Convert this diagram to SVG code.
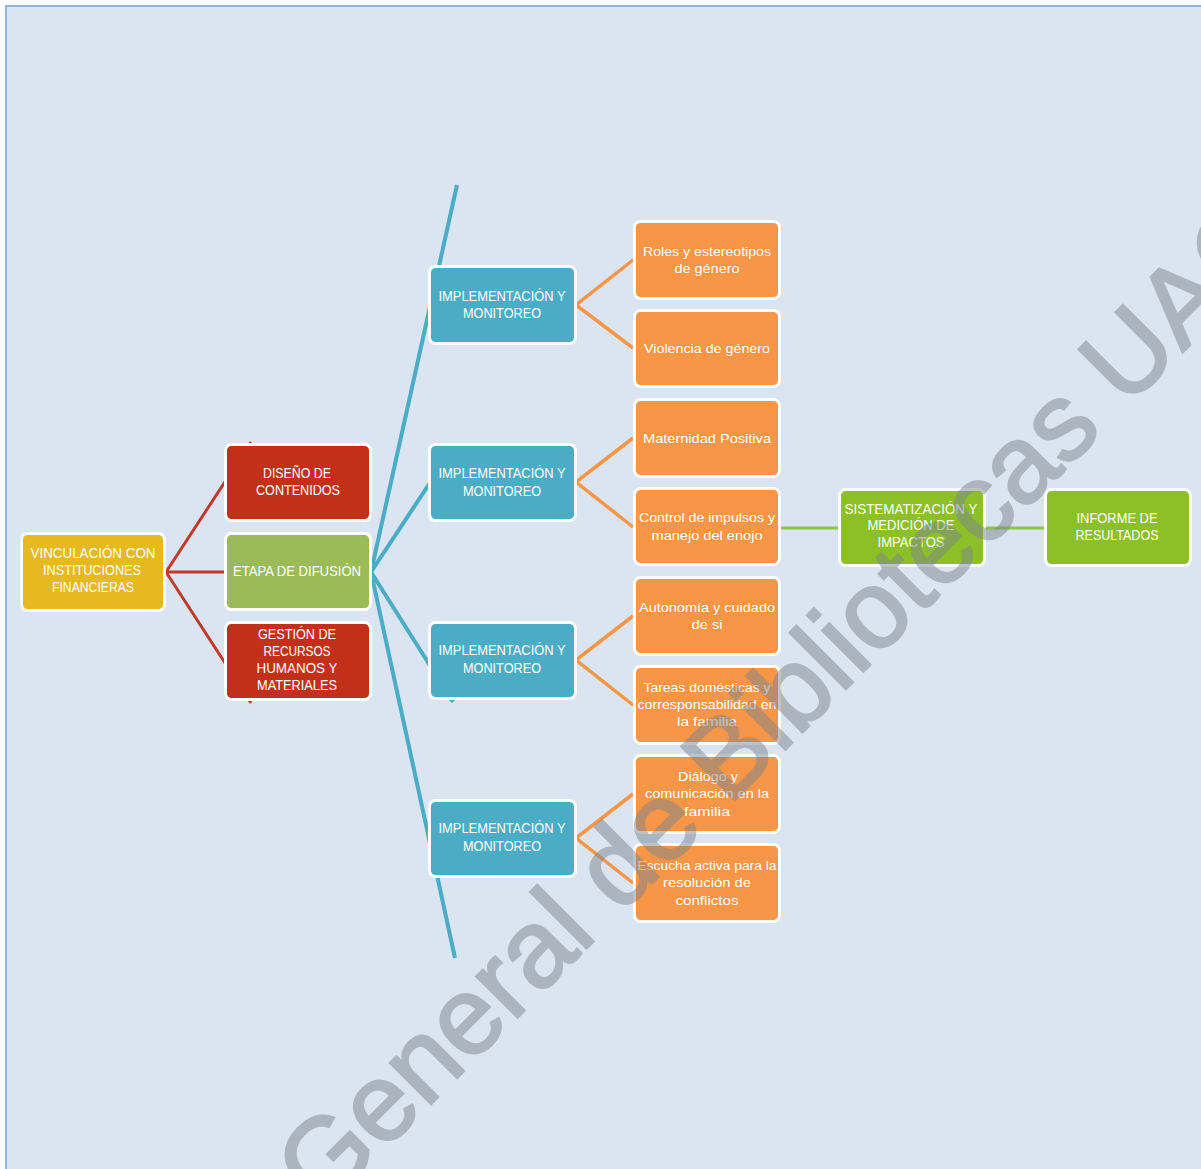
<svg xmlns="http://www.w3.org/2000/svg" width="1201" height="1169" viewBox="0 0 1201 1169">
<style>
.box{stroke:#FFFFFF;stroke-width:3}
.yel{fill:#E6B91E}
.red{fill:#C3301A}
.olv{fill:#9BBB59}
.teal{fill:#4BACC6}
.org{fill:#F79646}
.grn{fill:#8DC026}
text{font-family:"Liberation Sans Narrow","Liberation Sans",Arial,sans-serif;fill:#FFFFFF;text-anchor:middle;font-size:14px}
.lc{font-size:13.5px}
.cr{stroke:#C0392B;stroke-width:3;fill:none}
.ct{stroke:#4BACC6;stroke-width:4;fill:none}
.co{stroke:#F79646;stroke-width:3.5;fill:none}
.cg{stroke:#8DC63F;stroke-width:3;fill:none}
.wm{font-family:"Liberation Sans",Arial,sans-serif;font-size:110px;fill:#7F868E;stroke:#7F868E;stroke-width:2.5;text-anchor:start}
</style>
<rect x="0" y="0" width="1201" height="1169" fill="#FFFFFF"/>
<rect x="6" y="6" width="1196" height="1164" fill="#DBE5F1"/>
<line x1="5" y1="6" x2="1201" y2="6" stroke="#95B3D7" stroke-width="2"/>
<line x1="6" y1="5" x2="6" y2="1169" stroke="#95B3D7" stroke-width="2"/>

<g id="connectors">
<line class="cr" x1="166" y1="572" x2="251" y2="442"/>
<line class="cr" x1="166" y1="572" x2="226" y2="572"/>
<line class="cr" x1="166" y1="572" x2="251" y2="703"/>
<line class="ct" x1="371" y1="572" x2="457" y2="185"/>
<line class="ct" x1="371" y1="572" x2="445" y2="460"/>
<line class="ct" x1="371" y1="572" x2="453" y2="702"/>
<line class="ct" x1="371" y1="572" x2="455" y2="958"/>
<polyline class="co" points="633,260 576,305 633,348"/>
<polyline class="co" points="633,438 576,482 633,527"/>
<polyline class="co" points="633,616 576,660 633,705"/>
<polyline class="co" points="633,794 576,838 633,883"/>
<line class="cg" x1="780" y1="528" x2="840" y2="528"/>
<line class="cg" x1="984" y1="528" x2="1046" y2="528"/>
</g>

<g id="n-vinculacion"><rect class="box yel" x="21.5" y="533.5" width="143" height="77" rx="6"/>
<text x="93" y="558" textLength="125" lengthAdjust="spacingAndGlyphs">VINCULACIÓN  CON</text>
<text x="92" y="575" textLength="98" lengthAdjust="spacingAndGlyphs">INSTITUCIONES</text>
<text x="93" y="592" textLength="82" lengthAdjust="spacingAndGlyphs">FINANCIERAS</text></g>

<g id="n-diseno"><rect class="box red" x="225.5" y="444.5" width="145" height="76" rx="6"/>
<text x="297" y="478" textLength="68" lengthAdjust="spacingAndGlyphs">DISEÑO  DE</text>
<text x="298" y="495" textLength="84" lengthAdjust="spacingAndGlyphs">CONTENIDOS</text></g>

<g id="n-etapa"><rect class="box olv" x="225.5" y="533.5" width="145" height="76" rx="6"/>
<text x="297" y="576" textLength="128" lengthAdjust="spacingAndGlyphs">ETAPA DE DIFUSIÓN</text></g>

<g id="n-gestion"><rect class="box red" x="225.5" y="622.5" width="145" height="77" rx="6"/>
<text x="297" y="639" textLength="78" lengthAdjust="spacingAndGlyphs">GESTIÓN  DE</text>
<text x="297" y="656" textLength="67" lengthAdjust="spacingAndGlyphs">RECURSOS</text>
<text x="297" y="673" textLength="81" lengthAdjust="spacingAndGlyphs">HUMANOS Y</text>
<text x="297" y="690" textLength="80" lengthAdjust="spacingAndGlyphs">MATERIALES</text></g>

<g id="n-impl1"><rect class="box teal" x="429.5" y="266.5" width="146" height="77" rx="6"/>
<text x="502" y="301" textLength="127" lengthAdjust="spacingAndGlyphs">IMPLEMENTACIÓN  Y</text>
<text x="502" y="318" textLength="78" lengthAdjust="spacingAndGlyphs">MONITOREO</text></g>
<g id="n-impl2"><rect class="box teal" x="429.5" y="444.5" width="146" height="76" rx="6"/>
<text x="502" y="478" textLength="127" lengthAdjust="spacingAndGlyphs">IMPLEMENTACIÓN  Y</text>
<text x="502" y="496" textLength="78" lengthAdjust="spacingAndGlyphs">MONITOREO</text></g>
<g id="n-impl3"><rect class="box teal" x="429.5" y="622.5" width="146" height="76" rx="6"/>
<text x="502" y="655" textLength="127" lengthAdjust="spacingAndGlyphs">IMPLEMENTACIÓN  Y</text>
<text x="502" y="673" textLength="78" lengthAdjust="spacingAndGlyphs">MONITOREO</text></g>
<g id="n-impl4"><rect class="box teal" x="429.5" y="800.5" width="146" height="76" rx="6"/>
<text x="502" y="833" textLength="127" lengthAdjust="spacingAndGlyphs">IMPLEMENTACIÓN  Y</text>
<text x="502" y="851" textLength="78" lengthAdjust="spacingAndGlyphs">MONITOREO</text></g>

<g id="n-roles"><rect class="box org" x="634.5" y="221.5" width="145" height="77" rx="6"/>
<text class="lc" x="707" y="256" textLength="128" lengthAdjust="spacingAndGlyphs">Roles y estereotipos</text>
<text class="lc" x="707" y="273" textLength="65" lengthAdjust="spacingAndGlyphs">de género</text></g>
<g id="n-violencia"><rect class="box org" x="634.5" y="310.5" width="145" height="76" rx="6"/>
<text class="lc" x="707" y="353" textLength="126" lengthAdjust="spacingAndGlyphs">Violencia de género</text></g>
<g id="n-maternidad"><rect class="box org" x="634.5" y="399.5" width="145" height="77" rx="6"/>
<text class="lc" x="707" y="443" textLength="128" lengthAdjust="spacingAndGlyphs">Maternidad Positiva</text></g>
<g id="n-control"><rect class="box org" x="634.5" y="488.5" width="145" height="76" rx="6"/>
<text class="lc" x="707" y="522" textLength="136" lengthAdjust="spacingAndGlyphs">Control de impulsos y</text>
<text class="lc" x="707" y="540" textLength="111" lengthAdjust="spacingAndGlyphs">manejo del enojo</text></g>
<g id="n-autonomia"><rect class="box org" x="634.5" y="577.5" width="145" height="77" rx="6"/>
<text class="lc" x="707" y="612" textLength="136" lengthAdjust="spacingAndGlyphs">Autonomía y cuidado</text>
<text class="lc" x="707" y="629" textLength="31" lengthAdjust="spacingAndGlyphs">de si</text></g>
<g id="n-tareas"><rect class="box org" x="634.5" y="666.5" width="145" height="77" rx="6"/>
<text class="lc" x="707" y="692" textLength="127" lengthAdjust="spacingAndGlyphs">Tareas domésticas y</text>
<text class="lc" x="707" y="709" textLength="139" lengthAdjust="spacingAndGlyphs">corresponsabilidad en</text>
<text class="lc" x="707" y="726" textLength="60" lengthAdjust="spacingAndGlyphs">la familia</text></g>
<g id="n-dialogo"><rect class="box org" x="634.5" y="755.5" width="145" height="77" rx="6"/>
<text class="lc" x="708" y="781" textLength="60" lengthAdjust="spacingAndGlyphs">Diálogo y</text>
<text class="lc" x="707" y="798" textLength="124" lengthAdjust="spacingAndGlyphs">comunicación en la</text>
<text class="lc" x="707" y="816" textLength="46" lengthAdjust="spacingAndGlyphs">familia</text></g>
<g id="n-escucha"><rect class="box org" x="634.5" y="844.5" width="145" height="77" rx="6"/>
<text class="lc" x="707" y="870" textLength="139" lengthAdjust="spacingAndGlyphs">Escucha activa para la</text>
<text class="lc" x="707" y="887" textLength="88" lengthAdjust="spacingAndGlyphs">resolución de</text>
<text class="lc" x="707" y="905" textLength="63" lengthAdjust="spacingAndGlyphs">conflictos</text></g>

<g id="n-sistematizacion"><rect class="box grn" x="839.5" y="489.5" width="145" height="76" rx="6"/>
<text x="911" y="514" textLength="133" lengthAdjust="spacingAndGlyphs">SISTEMATIZACIÓN  Y</text>
<text x="911" y="530" textLength="87" lengthAdjust="spacingAndGlyphs">MEDICIÓN  DE</text>
<text x="911" y="547" textLength="67" lengthAdjust="spacingAndGlyphs">IMPACTOS</text></g>
<g id="n-informe"><rect class="box grn" x="1045.5" y="489.5" width="145" height="76" rx="6"/>
<text x="1117" y="523" textLength="81" lengthAdjust="spacingAndGlyphs">INFORME DE</text>
<text x="1117" y="540" textLength="83" lengthAdjust="spacingAndGlyphs">RESULTADOS</text></g>

<g opacity="0.5"><text class="wm" transform="translate(322,1213) rotate(-45)">General de Bibliotecas UAQ</text></g>
</svg>
